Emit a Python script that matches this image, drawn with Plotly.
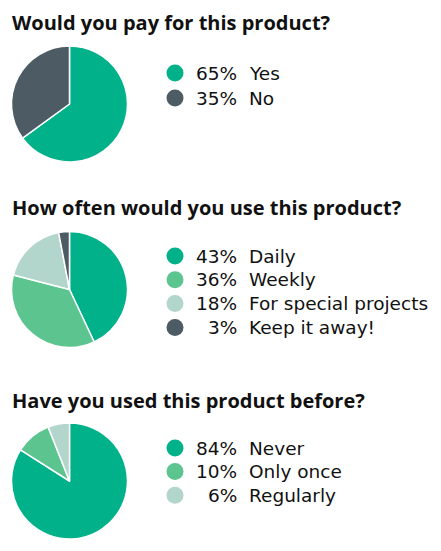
import plotly.graph_objects as go

# the page body has an 8px margin; draw in reference pixel coords shifted by it
OFF = 8
W, H = 441 - 2 * OFF, 551 - 2 * OFF

titles = ["Would you pay for this product?",
          "How often would you use this product?",
          "Have you used this product before?"]

q1_labels = ["Yes", "No"]
q1_values = [65, 35]
q2_labels = ["Daily", "Weekly", "For special projects", "Keep it away!"]
q2_values = [43, 36, 18, 3]
q3_labels = ["Never", "Only once", "Regularly"]
q3_values = [84, 10, 6]

TEAL = "#00b189"
SLATE = "#4c5b64"
GREEN = "#5cc48e"
LIGHT = "#b3d6cc"

q1_colors = [TEAL, SLATE]
q2_colors = [TEAL, GREEN, LIGHT, SLATE]
q3_colors = [TEAL, GREEN, LIGHT]

# layout (reference pixel positions)
pie_cx, pie_r = 69.5, 58
pie_cy = [104, 289.5, 481]
title_y = [22, 207.5, 400]
legend_y0 = [73, 256, 448]
legend_dy = [25, 23.8, 23.6]

groups = [(q1_labels, q1_values, q1_colors),
          (q2_labels, q2_values, q2_colors),
          (q3_labels, q3_values, q3_colors)]

fig = go.Figure()
annotations = []
TITLE_FONT = dict(family="Open Sans", size=20, color="#111111")
LEG_FONT = dict(family="DejaVu Sans", size=18.5, color="#111111")

def px(x):
    return x - OFF

for i, (labels, values, colors) in enumerate(groups):
    cy = pie_cy[i]
    fig.add_trace(go.Pie(
        labels=labels, values=values, sort=False, direction="clockwise",
        rotation=0, textinfo="none", hoverinfo="label+percent",
        marker=dict(colors=colors, line=dict(color="white", width=1.5)),
        domain=dict(x=[px(pie_cx - pie_r) / W, px(pie_cx + pie_r) / W],
                    y=[1 - px(cy + pie_r) / H, 1 - px(cy - pie_r) / H]),
        showlegend=False))
    annotations.append(dict(x=px(12) - 1, y=px(title_y[i]), xref="x", yref="y",
                            text="<b>%s</b>" % titles[i], borderpad=0,
                            showarrow=False, xanchor="left", yanchor="middle", font=TITLE_FONT))
    ys = [px(legend_y0[i] + k * legend_dy[i]) for k in range(len(labels))]
    fig.add_trace(go.Scatter(x=[px(175)] * len(labels), y=ys, mode="markers",
                             marker=dict(size=17, color=colors, line=dict(width=0)),
                             hoverinfo="skip", showlegend=False))
    for k, (lab, v) in enumerate(zip(labels, values)):
        annotations.append(dict(x=px(237) + 1, y=ys[k], xref="x", yref="y", text="%d%%" % v,
                                borderpad=0, showarrow=False, xanchor="right", yanchor="middle",
                                font=LEG_FONT))
        annotations.append(dict(x=px(249) - 1, y=ys[k], xref="x", yref="y", text=lab,
                                borderpad=0, showarrow=False, xanchor="left", yanchor="middle",
                                font=LEG_FONT))

fig.update_layout(
    width=W, height=H, margin=dict(l=0, r=0, t=0, b=0),
    paper_bgcolor="white", plot_bgcolor="rgba(0,0,0,0)",
    xaxis=dict(range=[0, W], visible=False, fixedrange=True),
    yaxis=dict(range=[H, 0], visible=False, fixedrange=True),
    annotations=annotations,
)
fig.write_html("out.html")
